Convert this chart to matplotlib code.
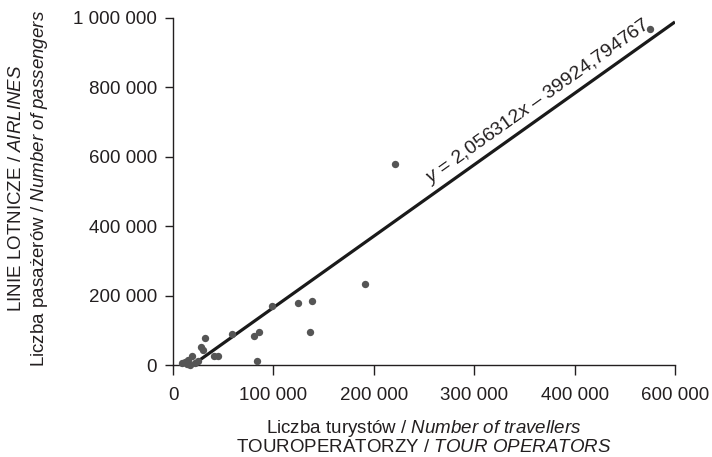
import numpy as np
import matplotlib
matplotlib.use("Agg")
import matplotlib.pyplot as plt

# travellers (tour operators) vs passengers (airlines)
travellers = [475000, 221000, 191000, 138000, 124500, 98700, 136800, 85600, 80600, 83800,
              58400, 31500, 27900, 29800, 41000, 44500, 18600, 25000, 12000, 15000,
              17000, 9000, 22000, 13500]
passengers = [969000, 578000, 233000, 185000, 180000, 169000, 96000, 96000, 85000, 13000,
              91000, 79000, 52000, 45000, 27000, 27000, 27000, 12000, 9500, 14000,
              1000, 7000, 5000, 4000]

# regression from the chart label
fit_slope = 2.056312
fit_intercept = -39924.794767

x_ticks = [0, 100000, 200000, 300000, 400000, 500000]
x_ticklabels = ["0", "100 000", "200 000", "300 000", "400 000", "600 000"]
y_ticks = [0, 200000, 400000, 600000, 800000, 1000000]
y_ticklabels = ["0", "200 000", "400 000", "600 000", "800 000", "1 000 000"]

plt.rcParams["font.family"] = ["Liberation Sans", "DejaVu Sans"]
plt.rcParams["mathtext.fontset"] = "custom"
plt.rcParams["mathtext.rm"] = "Liberation Sans"
plt.rcParams["mathtext.it"] = "Liberation Sans:italic"

txt_color = "#231f20"
fs = 13.5

fig = plt.figure(figsize=(7.12, 4.57), dpi=100)
ax = fig.add_axes([0.243, 0.201, 0.705, 0.760])

ax.scatter(travellers, passengers, s=28, color="#555555", zorder=3, clip_on=False,
           linewidths=0)

line_x = np.array([-fit_intercept / fit_slope, 500000])
line_y = fit_slope * line_x + fit_intercept
ax.plot(line_x, line_y, color="#1a1a1a", lw=2.3, zorder=2, solid_capstyle="butt")

ax.set_xlim(0, 500000)
ax.set_ylim(0, 1000000)
ax.set_xticks(x_ticks)
ax.set_xticklabels(x_ticklabels)
ax.set_yticks(y_ticks)
ax.set_yticklabels(y_ticklabels)
ax.tick_params(width=1, color=txt_color, labelsize=fs, labelcolor=txt_color)
ax.tick_params(axis="y", length=5.5, pad=6)
ax.tick_params(axis="x", length=7.5, pad=8)
for side in ["top", "right"]:
    ax.spines[side].set_visible(False)
for side in ["left", "bottom"]:
    ax.spines[side].set_color(txt_color)
    ax.spines[side].set_linewidth(1)

# equation label along the line
p0 = ax.transData.transform((200000, fit_slope * 200000 + fit_intercept))
p1 = ax.transData.transform((400000, fit_slope * 400000 + fit_intercept))
angle = np.degrees(np.arctan2(p1[1] - p0[1], p1[0] - p0[0]))
tx = 261000
d = 3
ax.annotate(r"$y$ = 2,056312$x$ – 39924,794767",
            xy=(tx, fit_slope * tx + fit_intercept),
            xytext=(-d * np.sin(np.radians(angle)), d * np.cos(np.radians(angle))),
            textcoords="offset points", rotation=angle, rotation_mode="anchor",
            ha="left", va="bottom", fontsize=14, color=txt_color)

# axis titles
ax.text(0.5, -0.182, r"Liczba turystów / $\it{Number\ of\ travellers}$",
        transform=ax.transAxes, ha="center", va="center", fontsize=fs, color=txt_color)
ax.text(0.5, -0.237, r"TOUROPERATORZY / $\it{TOUR\ OPERATORS}$",
        transform=ax.transAxes, ha="center", va="center", fontsize=fs, color=txt_color)
ax.text(-0.311, 0.51, r"LINIE LOTNICZE / $\it{AIRLINES}$", rotation=90,
        transform=ax.transAxes, ha="center", va="center", fontsize=fs, color=txt_color)
ax.text(-0.265, 0.51, r"Liczba pasażerów / $\it{Number\ of\ passengers}$", rotation=90,
        transform=ax.transAxes, ha="center", va="center", fontsize=fs, color=txt_color)

fig.savefig("out.png", dpi=100)
